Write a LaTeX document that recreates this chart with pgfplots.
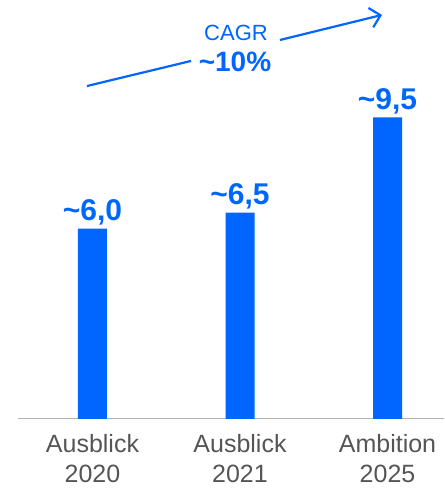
\documentclass[border=0pt]{standalone}
\usepackage{pgfplots}
\pgfplotsset{compat=1.18}
\usepackage{fontspec}
\setmainfont{Liberation Sans}
\usetikzlibrary{arrows.meta}
\definecolor{barblue}{RGB}{0,102,255}
\definecolor{lblgray}{RGB}{85,85,85}
\begin{document}
\begin{tikzpicture}
\begin{axis}[
  name=ax,
  scale only axis,
  width=426pt, height=419pt,
  xmin=-0.505, xmax=2.383,
  ymin=0, ymax=13.2,
  clip=false,
  axis y line=none,
  axis x line*=bottom,
  x axis line style={draw=black!30, line width=1pt},
  xtick={0,1,2},
  xticklabels={Ausblick\\2020,Ausblick\\2021,Ambition\\2025},
  major tick length=0pt,
  xtick style={draw=none},
  x tick label style={align=center, text=lblgray, font=\fontsize{25}{30}\selectfont, inner sep=0pt, yshift=-15pt},
  ybar, bar width=29pt,
  point meta=explicit symbolic,
  nodes near coords,
  nodes near coords style={anchor=base, yshift=8pt, text=barblue, font=\bfseries\fontsize{30}{30}\selectfont},
]
\addplot[fill=barblue, draw=none] coordinates {(0,6.0) [\textasciitilde6,0] (1,6.5) [\textasciitilde6,5] (2,9.5) [\textasciitilde9,5]};
\draw[barblue, line width=2.2pt] (axis cs:-0.0373,10.49) -- (axis cs:0.668,11.28);
\draw[barblue, line width=2.2pt, -{Straight Barb[length=10pt,width=20pt]}] (axis cs:1.271,11.94) -- (axis cs:1.963,12.73);
\node[anchor=base, text=barblue, font=\fontsize{22}{22}\selectfont, inner sep=0pt] at (axis cs:0.973,11.91) {CAGR};
\node[anchor=base, text=barblue, font=\bfseries\fontsize{28}{28}\selectfont, inner sep=0pt] at (axis cs:0.966,10.96) {\textasciitilde10\%};
\end{axis}
\pgfresetboundingbox
\path[use as bounding box] ([shift={(-18pt,-69pt)}]ax.south west) rectangle (ax.north east);
\end{tikzpicture}
\end{document}
